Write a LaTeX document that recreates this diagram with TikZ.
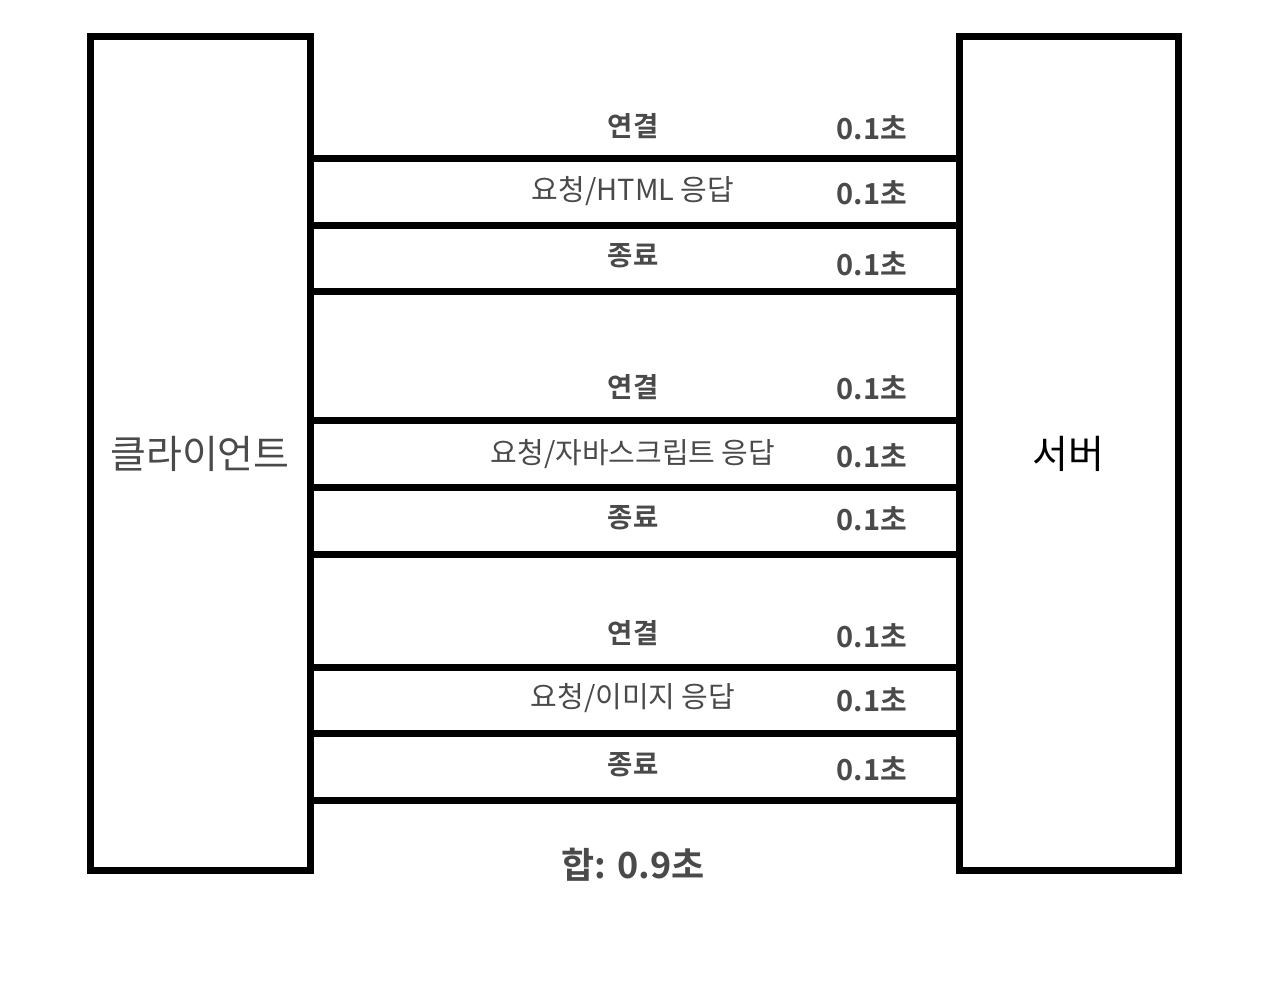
\documentclass[tikz,border=0pt]{standalone}
\usepackage{fontspec}
\setmainfont{Noto Sans CJK KR}
\newfontfamily\krb{Noto Sans CJK KR Bold}
\definecolor{txtgrey}{HTML}{4A4A4A}
\begin{document}
\begin{tikzpicture}[x=1pt,y=-1pt,
  party/.style={draw=black,line width=7pt,outer sep=0pt,inner sep=0pt,fill=white,font=\fontsize{39}{41}\selectfont},
  link/.style={draw=black,line width=7pt},
  lbold/.style={text=txtgrey,font=\krb\fontsize{27.5}{29}\selectfont,inner sep=0pt},
  lreg/.style={text=txtgrey,font=\fontsize{29}{31}\selectfont,inner sep=0pt},
  tsec/.style={text=txtgrey,font=\krb\fontsize{29}{31}\selectfont,inner sep=0pt}]
\useasboundingbox (0,0) rectangle (1280,982);
\fill[white] (0,0) rectangle (1280,982);
\node[party,minimum width=220pt,minimum height=833pt,text=txtgrey] (client) at (200,453.5) {클라이언트};
\node[party,minimum width=219pt,minimum height=833pt,text=black] (server) at (1068.5,453.5) {서버};
\foreach \y [count=\i] in {158,225,291,420,487,554,667,733,800}{
  \coordinate (h\i) at (0,\y);
  \draw[link] (client.east |- h\i) -- (server.west |- h\i);
}
% group 1
\node[lbold] (c1) at (633,126) {연결};
\node[tsec] (t1) at (872,128) {0.1초};
\node[lreg] (r1) at (633,191) {요청/HTML 응답};
\node[tsec] (t2) at (872,193) {0.1초};
\node[lbold] (e1) at (633,256) {종료};
\node[tsec] (t3) at (872,264) {0.1초};
% group 2
\node[lbold] (c2) at (633,387) {연결};
\node[tsec] (t4) at (872,388) {0.1초};
\node[lreg] (r2) at (633,454) {요청/자바스크립트 응답};
\node[tsec] (t5) at (872,456) {0.1초};
\node[lbold] (e2) at (633,518) {종료};
\node[tsec] (t6) at (872,519) {0.1초};
% group 3
\node[lbold] (c3) at (633,633) {연결};
\node[tsec] (t7) at (872,636) {0.1초};
\node[lreg] (r3) at (633,698) {요청/이미지 응답};
\node[tsec] (t8) at (872,700) {0.1초};
\node[lbold] (e3) at (633,765) {종료};
\node[tsec] (t9) at (872,769) {0.1초};
% total
\node[text=txtgrey,font=\krb\fontsize{36}{38}\selectfont,inner sep=0pt] (sum) at (633,865) {합: 0.9초};
\end{tikzpicture}
\end{document}
